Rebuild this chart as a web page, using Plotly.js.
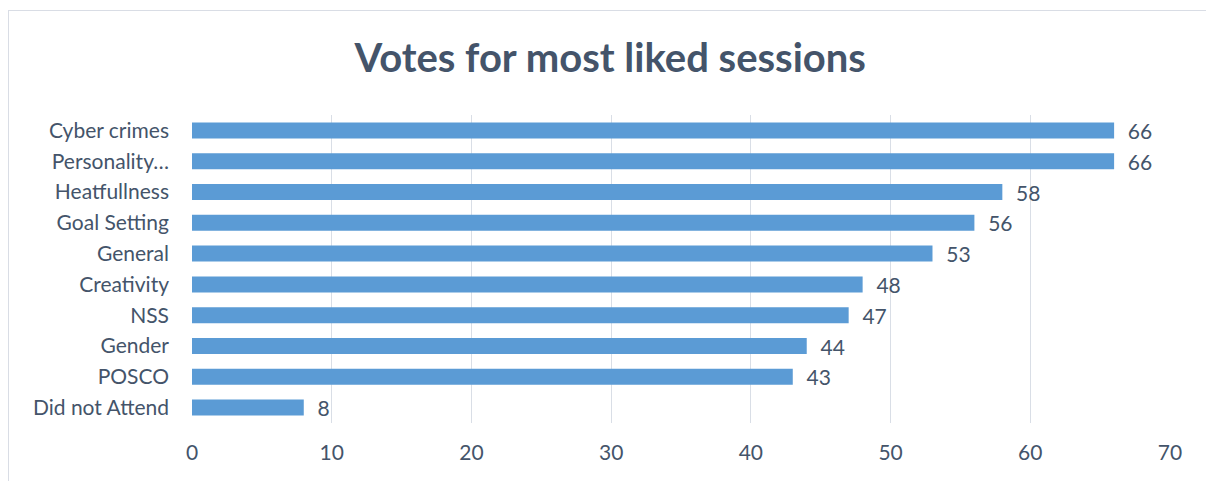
<!DOCTYPE html>
<html>
<head>
<meta charset="utf-8">
<script src="https://cdn.plot.ly/plotly-3.0.1.min.js"></script>
<style>
  html, body { margin: 0; padding: 0; background: #fff; }
  #wrap { position: relative; width: 1206px; height: 481px; overflow: hidden; }
  #chart { position: absolute; left: 0; top: 0; width: 1206px; height: 481px; }
  #frame { position: absolute; left: 8px; top: 10px; width: 1210px; height: 490px; border: 1px solid #D9DDE5; box-sizing: border-box; pointer-events: none; }
</style>
</head>
<body>
<div id="wrap">
  <div id="chart"></div>
  <div id="frame"></div>
</div>
<script>
const categories = ["Cyber crimes", "Personality…", "Heatfullness", "Goal Setting", "General", "Creativity", "NSS", "Gender", "POSCO", "Did not Attend"];
const votes = [66, 66, 58, 56, 53, 48, 47, 44, 43, 8];
const xTicks = [0, 10, 20, 30, 40, 50, 60, 70];
const titleText = "Votes for most liked sessions";

const textColor = "#44546A";
const fontFam = "Lato, 'Open Sans', sans-serif";

const trace = {
  type: "bar",
  orientation: "h",
  x: votes,
  y: categories,
  marker: { color: "#5B9BD5", line: { width: 0 } },
  width: 0.52,
  texttemplate: "  %{x}",
  textposition: "outside",
  constraintext: "none",
  cliponaxis: false,
  textfont: { family: fontFam, size: 21, color: textColor },
  hoverinfo: "skip"
};

const layout = {
  width: 1206,
  height: 481,
  margin: { l: 192, r: 36, t: 115, b: 58 },
  paper_bgcolor: "#ffffff",
  plot_bgcolor: "#ffffff",
  showlegend: false,
  title: {
    text: "<b>" + titleText + "</b>",
    font: { family: fontFam, size: 40, color: textColor },
    x: 0.506, xanchor: "center",
    y: 0.88, yanchor: "middle"
  },
  xaxis: {
    range: [0, 70],
    tickvals: xTicks,
    ticktext: xTicks.map(String),
    showgrid: true,
    gridcolor: "#D9DEE6",
    gridwidth: 1,
    zeroline: false,
    showline: false,
    ticks: "",
    ticklabelstandoff: 15,
    tickfont: { family: fontFam, size: 21, color: textColor },
    fixedrange: true
  },
  yaxis: {
    autorange: "reversed",
    type: "category",
    showgrid: false,
    zeroline: false,
    showline: false,
    ticks: "",
    ticklabelstandoff: 22,
    tickfont: { family: fontFam, size: 21, color: textColor },
    fixedrange: true
  },
  font: { family: fontFam, color: textColor }
};

Plotly.newPlot("chart", [trace], layout, { displayModeBar: false, staticPlot: true });
</script>
</body>
</html>
